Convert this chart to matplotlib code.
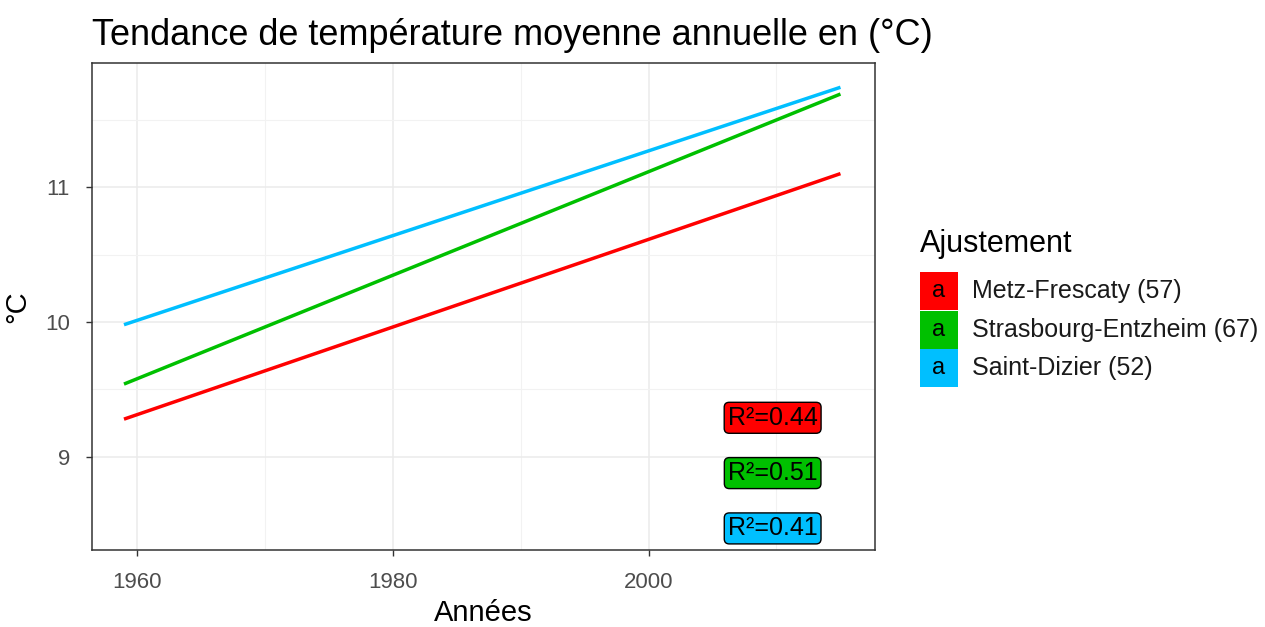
import matplotlib.pyplot as plt
from matplotlib.patches import Rectangle

plt.rcParams['font.family'] = ['Liberation Sans', 'DejaVu Sans']

stations = ['Metz-Frescaty (57)', 'Strasbourg-Entzheim (67)', 'Saint-Dizier (52)']
colors = ['#FF0000', '#00C000', '#00BFFF']
years = [1959, 2015]
trend_start = [9.28, 9.54, 9.98]
trend_end = [11.10, 11.69, 11.74]
r2_labels = ['R²=0.44', 'R²=0.51', 'R²=0.41']
r2_y = [9.29, 8.88, 8.47]
r2_x = 2009.7

fig = plt.figure(figsize=(12.65, 6.27), dpi=100)
ax = fig.add_axes([92 / 1265, 1 - 550 / 627, (875 - 92) / 1265, (550 - 63) / 627])

for name, col, y0, y1 in zip(stations, colors, trend_start, trend_end):
  ax.plot(years, [y0, y1], color=col, lw=2.5, solid_capstyle='butt', zorder=3)

for lab, col, y in zip(r2_labels, colors, r2_y):
  ax.text(r2_x, y, lab, ha='center', va='center', fontsize=18, color='black', zorder=4,
          bbox=dict(boxstyle='round,pad=0.14,rounding_size=0.2', fc=col, ec='black', lw=1.0))

ax.set_xlim(1956.5, 2017.7)
ax.set_ylim(8.31, 11.92)
ax.set_xticks([1960, 1980, 2000])
ax.set_xticks([1970, 1990, 2010], minor=True)
ax.set_yticks([9, 10, 11])
ax.set_yticks([9.5, 10.5, 11.5], minor=True)
ax.grid(True, which='major', color='#EBEBEB', lw=1.1)
ax.grid(True, which='minor', color='#F2F2F2', lw=0.8)
ax.set_axisbelow(True)
ax.tick_params(which='major', direction='out', length=4, width=1, color='#333333',
               labelsize=16, labelcolor='#4D4D4D')
ax.tick_params(axis='x', which='major', pad=12)
ax.tick_params(axis='y', which='major', pad=12)
ax.tick_params(which='minor', length=0)
for s in ax.spines.values():
  s.set_color('#333333')
  s.set_linewidth(1.1)

ax.set_xlabel('Années', fontsize=21, labelpad=4)
ax.set_ylabel('°C', fontsize=21, labelpad=10)
ax.set_title('Tendance de température moyenne annuelle en (°C)', fontsize=26, loc='left',
             x=0.0, pad=13)

# legend drawn by hand: coloured keys holding an "a"
fig.text(920 / 1265, 1 - 244 / 627, 'Ajustement', fontsize=22, va='center', ha='left')
key_w, key_h = 38 / 1265, 38 / 627
for i, (name, col) in enumerate(zip(stations, colors)):
  top = 272 + i * 38.5
  x0, y0 = 920 / 1265, 1 - (top + 38) / 627
  fig.add_artist(Rectangle((x0, y0), key_w, key_h, transform=fig.transFigure,
                           fc=col, ec='none'))
  fig.text(x0 + key_w / 2, y0 + key_h / 2, 'a', fontsize=17, ha='center', va='center')
  fig.text(972 / 1265, y0 + key_h / 2, name, fontsize=18, ha='left', va='center',
           color='#1A1A1A')

fig.savefig('out.png', dpi=100)
